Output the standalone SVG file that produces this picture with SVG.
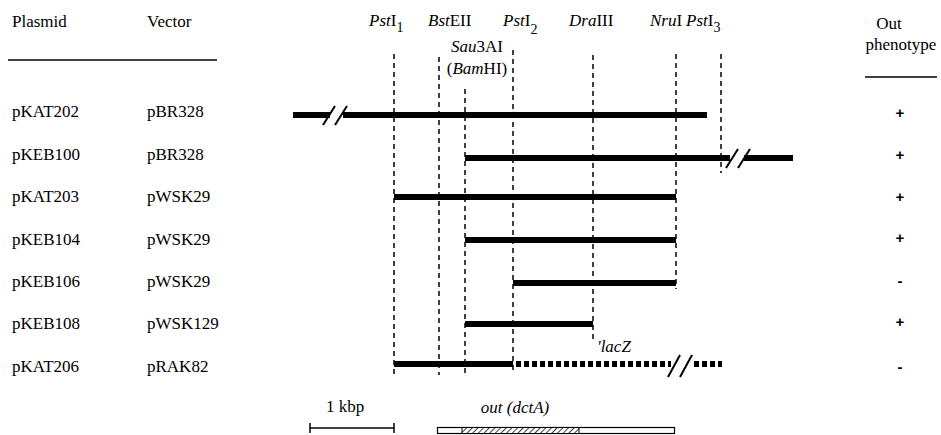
<svg xmlns="http://www.w3.org/2000/svg" width="941" height="435" viewBox="0 0 941 435">
<style>
text{font-family:"Liberation Serif","Times New Roman",serif;font-size:17px;fill:#000}
.i{font-style:italic}
.sub{font-size:14px}
.ph{font-family:"Liberation Sans",Arial,sans-serif;font-weight:bold;font-size:15px}
.dash{stroke:#000;stroke-width:1.5;stroke-dasharray:5 4;fill:none}
.bar{stroke:#000;stroke-width:6;fill:none}
.dot{stroke:#000;stroke-width:6;stroke-dasharray:5 3;fill:none}
.brk{stroke:#000;stroke-width:2;fill:none}
.rule{stroke:#000;stroke-width:1.5}
</style>
<defs>
<pattern id="hatch" width="4" height="4" patternUnits="userSpaceOnUse" patternTransform="rotate(45)">
<rect width="4" height="4" fill="#fff"/>
<line x1="0" y1="0" x2="0" y2="4" stroke="#000" stroke-width="1.5"/>
</pattern>
</defs>
<g id="headers">
<text x="12" y="27">Plasmid</text>
<text x="147" y="27">Vector</text>
<line class="rule" x1="8" y1="60" x2="217" y2="60"/>
<text x="889" y="29" text-anchor="middle">Out</text>
<text x="901" y="50" text-anchor="middle">phenotype</text>
<line class="rule" x1="865" y1="77" x2="937" y2="77"/>
</g>
<g id="sites">
<text x="369" y="26"><tspan class="i">Pst</tspan>I<tspan class="sub" dy="6">1</tspan></text>
<text x="428" y="26"><tspan class="i">Bst</tspan>EII</text>
<text x="503" y="26"><tspan class="i">Pst</tspan>I<tspan class="sub" dy="8">2</tspan></text>
<text x="569" y="26"><tspan class="i">Dra</tspan>III</text>
<text x="650" y="26"><tspan class="i">Nru</tspan>I</text>
<text x="686" y="26"><tspan class="i">Pst</tspan>I<tspan class="sub" dy="6">3</tspan></text>
<text x="477" y="52" text-anchor="middle"><tspan class="i">Sau</tspan>3AI</text>
<text x="477" y="74" text-anchor="middle">(<tspan class="i">Bam</tspan>HI)</text>
</g>
<g id="connectors">
<line class="dash" x1="394" y1="54" x2="394" y2="375"/>
<line class="dash" x1="439" y1="57" x2="439" y2="375"/>
<line class="dash" x1="465" y1="89" x2="465" y2="375"/>
<line class="dash" x1="513" y1="50" x2="513" y2="372"/>
<line class="dash" x1="593" y1="55" x2="593" y2="340"/>
<line class="dash" x1="676" y1="54" x2="676" y2="289"/>
<line class="dash" x1="721" y1="54" x2="721" y2="173"/>
</g>
<g id="pKAT202">
<text x="12" y="117">pKAT202</text>
<text x="147" y="117">pBR328</text>
<line class="bar" x1="293" y1="115" x2="330" y2="115"/>
<line class="bar" x1="343" y1="115" x2="707" y2="115"/>
<line class="brk" x1="323" y1="125" x2="335" y2="106"/>
<line class="brk" x1="335" y1="125" x2="347" y2="106"/>
<text class="ph" x="900" y="118" text-anchor="middle">+</text>
</g>
<g id="pKEB100">
<text x="12" y="160">pKEB100</text>
<text x="147" y="160">pBR328</text>
<line class="bar" x1="465" y1="158" x2="730" y2="158"/>
<line class="bar" x1="744" y1="158" x2="793" y2="158"/>
<line class="brk" x1="726" y1="168" x2="738" y2="149"/>
<line class="brk" x1="738" y1="168" x2="750" y2="149"/>
<text class="ph" x="900" y="160" text-anchor="middle">+</text>
</g>
<g id="pKAT203">
<text x="12" y="202">pKAT203</text>
<text x="147" y="202">pWSK29</text>
<line class="bar" x1="394" y1="197" x2="676" y2="197"/>
<text class="ph" x="900" y="202" text-anchor="middle">+</text>
</g>
<g id="pKEB104">
<text x="12" y="245">pKEB104</text>
<text x="147" y="245">pWSK29</text>
<line class="bar" x1="465" y1="240" x2="676" y2="240"/>
<text class="ph" x="900" y="243" text-anchor="middle">+</text>
</g>
<g id="pKEB106">
<text x="12" y="287">pKEB106</text>
<text x="147" y="287">pWSK29</text>
<line class="bar" x1="513" y1="283" x2="676" y2="283"/>
<text class="ph" x="900" y="286" text-anchor="middle">-</text>
</g>
<g id="pKEB108">
<text x="12" y="329">pKEB108</text>
<text x="147" y="329">pWSK129</text>
<line class="bar" x1="465" y1="324" x2="593" y2="324"/>
<text class="ph" x="900" y="327" text-anchor="middle">+</text>
</g>
<g id="pKAT206">
<text x="12" y="372">pKAT206</text>
<text x="147" y="372">pRAK82</text>
<line class="bar" x1="394" y1="364" x2="513" y2="364"/>
<line class="dot" x1="516" y1="364" x2="671" y2="364"/>
<line class="dot" x1="694" y1="364" x2="722" y2="364"/>
<line class="brk" x1="668" y1="377" x2="680" y2="355"/>
<line class="brk" x1="680" y1="377" x2="692" y2="355"/>
<text class="i" x="597" y="352">'lacZ</text>
<text class="ph" x="900" y="372" text-anchor="middle">-</text>
</g>
<g id="scale">
<text x="345" y="412" text-anchor="middle">1 kbp</text>
<line class="rule" x1="310" y1="428" x2="394" y2="428"/>
<line class="rule" x1="310" y1="423" x2="310" y2="433"/>
<line class="rule" x1="394" y1="423" x2="394" y2="433"/>
</g>
<g id="gene">
<text class="i" x="515" y="413" text-anchor="middle">out (dctA)</text>
<rect x="437.5" y="427.5" width="237" height="6" fill="#fff" stroke="#000" stroke-width="1.2"/>
<rect x="462" y="428" width="117" height="5" fill="url(#hatch)"/>
<line x1="462" y1="428" x2="462" y2="433" stroke="#000" stroke-width="1"/>
<line x1="579" y1="428" x2="579" y2="433" stroke="#000" stroke-width="1"/>
</g>
</svg>
